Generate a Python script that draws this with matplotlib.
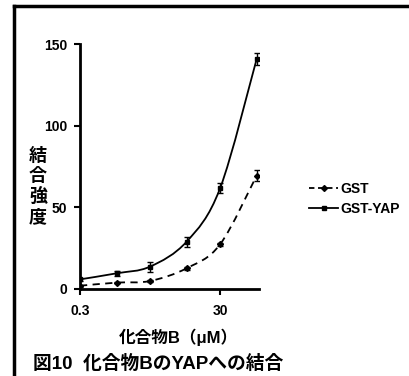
import numpy as np
import matplotlib
matplotlib.use("Agg")
import matplotlib.pyplot as plt
from matplotlib.path import Path
from matplotlib.patches import PathPatch
from matplotlib.lines import Line2D

# data
conc = [0.3, 1, 3, 10, 30, 100]
gst = [2.0, 3.9, 4.9, 12.7, 27.3, 69.4]
gst_err = [0.5, 0.5, 0.5, 1.0, 1.0, 3.5]
gst_yap = [5.9, 9.6, 13.7, 29.0, 61.6, 140.8]
gst_yap_err = [1.0, 1.5, 3.0, 3.0, 3.0, 3.5]
series_names = ["GST", "GST-YAP"]
xtick_labels = ["0.3", "30"]

plt.rcParams['font.family'] = ['Liberation Sans', 'Noto Sans CJK JP', 'DejaVu Sans']
plt.rcParams['font.weight'] = 'bold'


def smooth_path(xs, ys):
    # Catmull-Rom through the points in (log x, y), drawn as bezier segments
    lx = np.log10(xs)
    ys = np.asarray(ys, float)
    pts = np.column_stack([lx, ys])
    n = len(pts)
    verts = [pts[0]]
    codes = [Path.MOVETO]
    for i in range(n - 1):
        p0 = pts[i - 1] if i > 0 else pts[i]
        p1 = pts[i]
        p2 = pts[i + 1]
        p3 = pts[i + 2] if i + 2 < n else pts[i + 1]
        c1 = p1 + (p2 - p0) / 6.0
        c2 = p2 - (p3 - p1) / 6.0
        verts += [c1, c2, p2]
        codes += [Path.CURVE4] * 3
    verts = np.array(verts)
    verts[:, 0] = 10 ** verts[:, 0]
    return Path(verts, codes)


fig = plt.figure(figsize=(4.09, 3.76), dpi=100)
ax = fig.add_axes([80 / 409, 87 / 376, 179 / 409, 245 / 376])

ax.add_patch(PathPatch(smooth_path(conc, gst), fill=False, lw=1.3, ls=(0, (4, 3)), color='black'))
ax.add_patch(PathPatch(smooth_path(conc, gst_yap), fill=False, lw=1.3, color='black'))

ax.errorbar(conc, gst, yerr=gst_err, fmt='D', ms=3.0, color='black', ecolor='black',
            elinewidth=1.0, capsize=2)
ax.errorbar(conc, gst_yap, yerr=gst_yap_err, fmt='s', ms=3.0, color='black', ecolor='black',
            elinewidth=1.0, capsize=2)

ax.set_xscale('log')
ax.set_xlim(0.3, 108)
ax.set_ylim(0, 150)
ax.set_xticks([0.3, 30])
ax.set_xticklabels(xtick_labels)
ax.xaxis.set_minor_locator(matplotlib.ticker.NullLocator())
ax.set_yticks([0, 50, 100, 150])
ax.tick_params(axis='both', direction='out', length=4, width=1.5, labelsize=10, pad=5)
ax.tick_params(axis='x', pad=7)
for s in ['top', 'right']:
    ax.spines[s].set_visible(False)
for s in ['left', 'bottom']:
    ax.spines[s].set_linewidth(2.0)
for lab in ax.get_xticklabels() + ax.get_yticklabels():
    lab.set_fontweight('bold')

handles = [
    Line2D([], [], color='black', lw=1.3, ls=(0, (3, 2)), marker='D', ms=3),
    Line2D([], [], color='black', lw=1.3, marker='s', ms=3),
]
fig.legend(handles, series_names, loc='center left', bbox_to_anchor=(302 / 409, 1 - 199 / 376),
           frameon=False, handlelength=2.1, handletextpad=0.15, labelspacing=0.45,
           borderpad=0, prop={'weight': 'bold', 'size': 10})

fig.text(38 / 409, 1 - 187 / 376, "結\n合\n強\n度", ha='center', va='center', fontsize=13,
         fontweight='bold', linespacing=1.22)
fig.text(178 / 409, 1 - 337 / 376, "化合物B（μM）", ha='center', va='center', fontsize=12,
         fontweight='bold')
fig.text(33 / 409, 1 - 364 / 376, "図10  化合物BのYAPへの結合", ha='left', va='center', fontsize=13.5,
         fontweight='bold')

# border of the figure panel
fig.add_artist(Line2D([14 / 409, 1], [1 - 5.5 / 376, 1 - 5.5 / 376], color='black', lw=2.5,
                      transform=fig.transFigure))
fig.add_artist(Line2D([14 / 409, 14 / 409], [0, 1 - 5.5 / 376], color='black', lw=2.5,
                      transform=fig.transFigure))

fig.savefig("out.png", dpi=100)
